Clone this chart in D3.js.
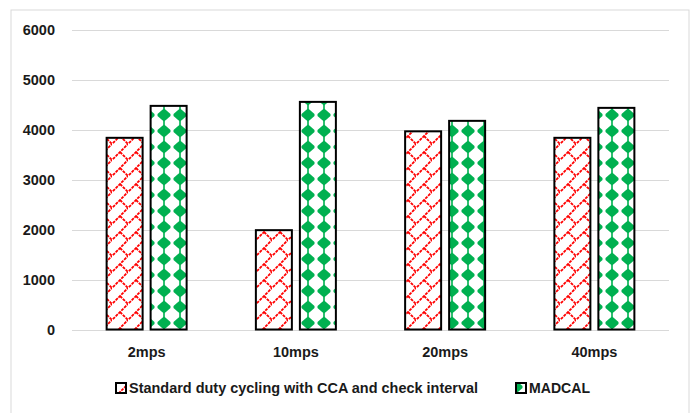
<!DOCTYPE html>
<html><head><meta charset="utf-8">
<script src="https://cdn.jsdelivr.net/npm/d3@7"></script>
<style>body{margin:0;background:#fff}svg{display:block}</style>
</head><body>
<script>
const categories = ["2mps","10mps","20mps","40mps"];
const seriesNames = ["Standard duty cycling with CCA and check interval","MADCAL"];
const standard = [3840, 1990, 3970, 3840];
const madcal = [4480, 4560, 4180, 4440];
const yTicks = [0,1000,2000,3000,4000,5000,6000];

const W=694,H=413;
const svg=d3.select("body").append("svg").attr("width",W).attr("height",H);
const font="'Liberation Sans', Arial, sans-serif";
const txtColor="#1a1a1a";
const defs=svg.append("defs");
// red diagonal brick pattern
const pr=defs.append("pattern").attr("id","brick").attr("patternUnits","userSpaceOnUse")
  .attr("width",16).attr("height",16);
pr.append("rect").attr("width",16).attr("height",16).attr("fill","#fff");
pr.append("path").attr("d","M-2,18 L18,-2 M8,8 L16,16").attr("stroke","#f00").attr("stroke-width",1.8).attr("stroke-dasharray","3,1").attr("fill","none");
// green diamond pattern
const pg=defs.append("pattern").attr("id","diamond").attr("patternUnits","userSpaceOnUse")
  .attr("width",16).attr("height",16).attr("x",12).attr("y",11);
pg.append("rect").attr("width",16).attr("height",16).attr("fill","#fff");
pg.append("path").attr("d","M8,1.5 L10,3 L10.5,3.5 L14.5,7 L14.5,9 L10.5,12.5 L8,14.5 L5.5,12.5 L1.5,9 L1.5,7 L5.5,3.5 Z").attr("fill","#00b050");
pg.append("rect").attr("x",7.2).attr("y",0).attr("width",1.6).attr("height",16).attr("fill","#00b050");

svg.append("rect").attr("x",11).attr("y",10).attr("width",678).attr("height",420)
  .attr("fill","none").attr("stroke","#d9d9d9").attr("stroke-width",1);

const x=d3.scaleBand().domain(categories).range([72,669]);
const y=d3.scaleLinear().domain([0,6000]).range([329.5,30]);

svg.append("g").selectAll("line").data(yTicks).join("line")
  .attr("x1",72).attr("x2",669).attr("y1",d=>Math.round(y(d))+0.5).attr("y2",d=>Math.round(y(d))+0.5)
  .attr("stroke","#d9d9d9").attr("stroke-width",1);

const yAxis=svg.append("g").attr("transform","translate(55,0)")
  .call(d3.axisLeft(y).tickValues(yTicks).tickSize(0).tickPadding(0).tickFormat(d3.format("d")));
yAxis.select(".domain").remove();
yAxis.selectAll("text").attr("font-family",font).attr("font-size",14.5).attr("font-weight","bold").attr("fill",txtColor);

const xAxis=svg.append("g").attr("transform","translate(0,347)")
  .call(d3.axisBottom(x).tickSize(0).tickPadding(0));
xAxis.select(".domain").remove();
xAxis.selectAll("text").attr("font-family",font).attr("font-size",14.5).attr("font-weight","bold").attr("fill",txtColor).attr("dy","0.71em");

const bw=36, gap=8;
const data=[standard,madcal];
const fills=["url(#brick)","url(#diamond)"];
data.forEach((vals,si)=>{
  svg.append("g").selectAll("rect").data(vals).join("rect")
    .attr("x",(d,i)=>x(categories[i])+x.bandwidth()/2 - bw - gap/2 + si*(bw+gap))
    .attr("y",d=>y(d)).attr("width",bw).attr("height",d=>y(0)-y(d))
    .attr("fill",fills[si]).attr("stroke","#000").attr("stroke-width",2);
});

// legend
const leg=[{x:115,name:seriesNames[0],fill:"url(#brick)",tl:349},{x:515,name:seriesNames[1],fill:"url(#diamond)",tl:61}];
leg.forEach(l=>{
  svg.append("rect").attr("x",l.x+1).attr("y",383).attr("width",10).attr("height",10)
    .attr("fill",l.fill).attr("stroke","#000").attr("stroke-width",2);
  svg.append("text").attr("x",l.x+14).attr("y",388).attr("dy","0.35em")
    .attr("font-family",font).attr("font-size",14.5).attr("font-weight","bold").attr("fill",txtColor)
    .attr("textLength",l.tl).attr("lengthAdjust","spacingAndGlyphs").text(l.name);
});
</script>
</body></html>
